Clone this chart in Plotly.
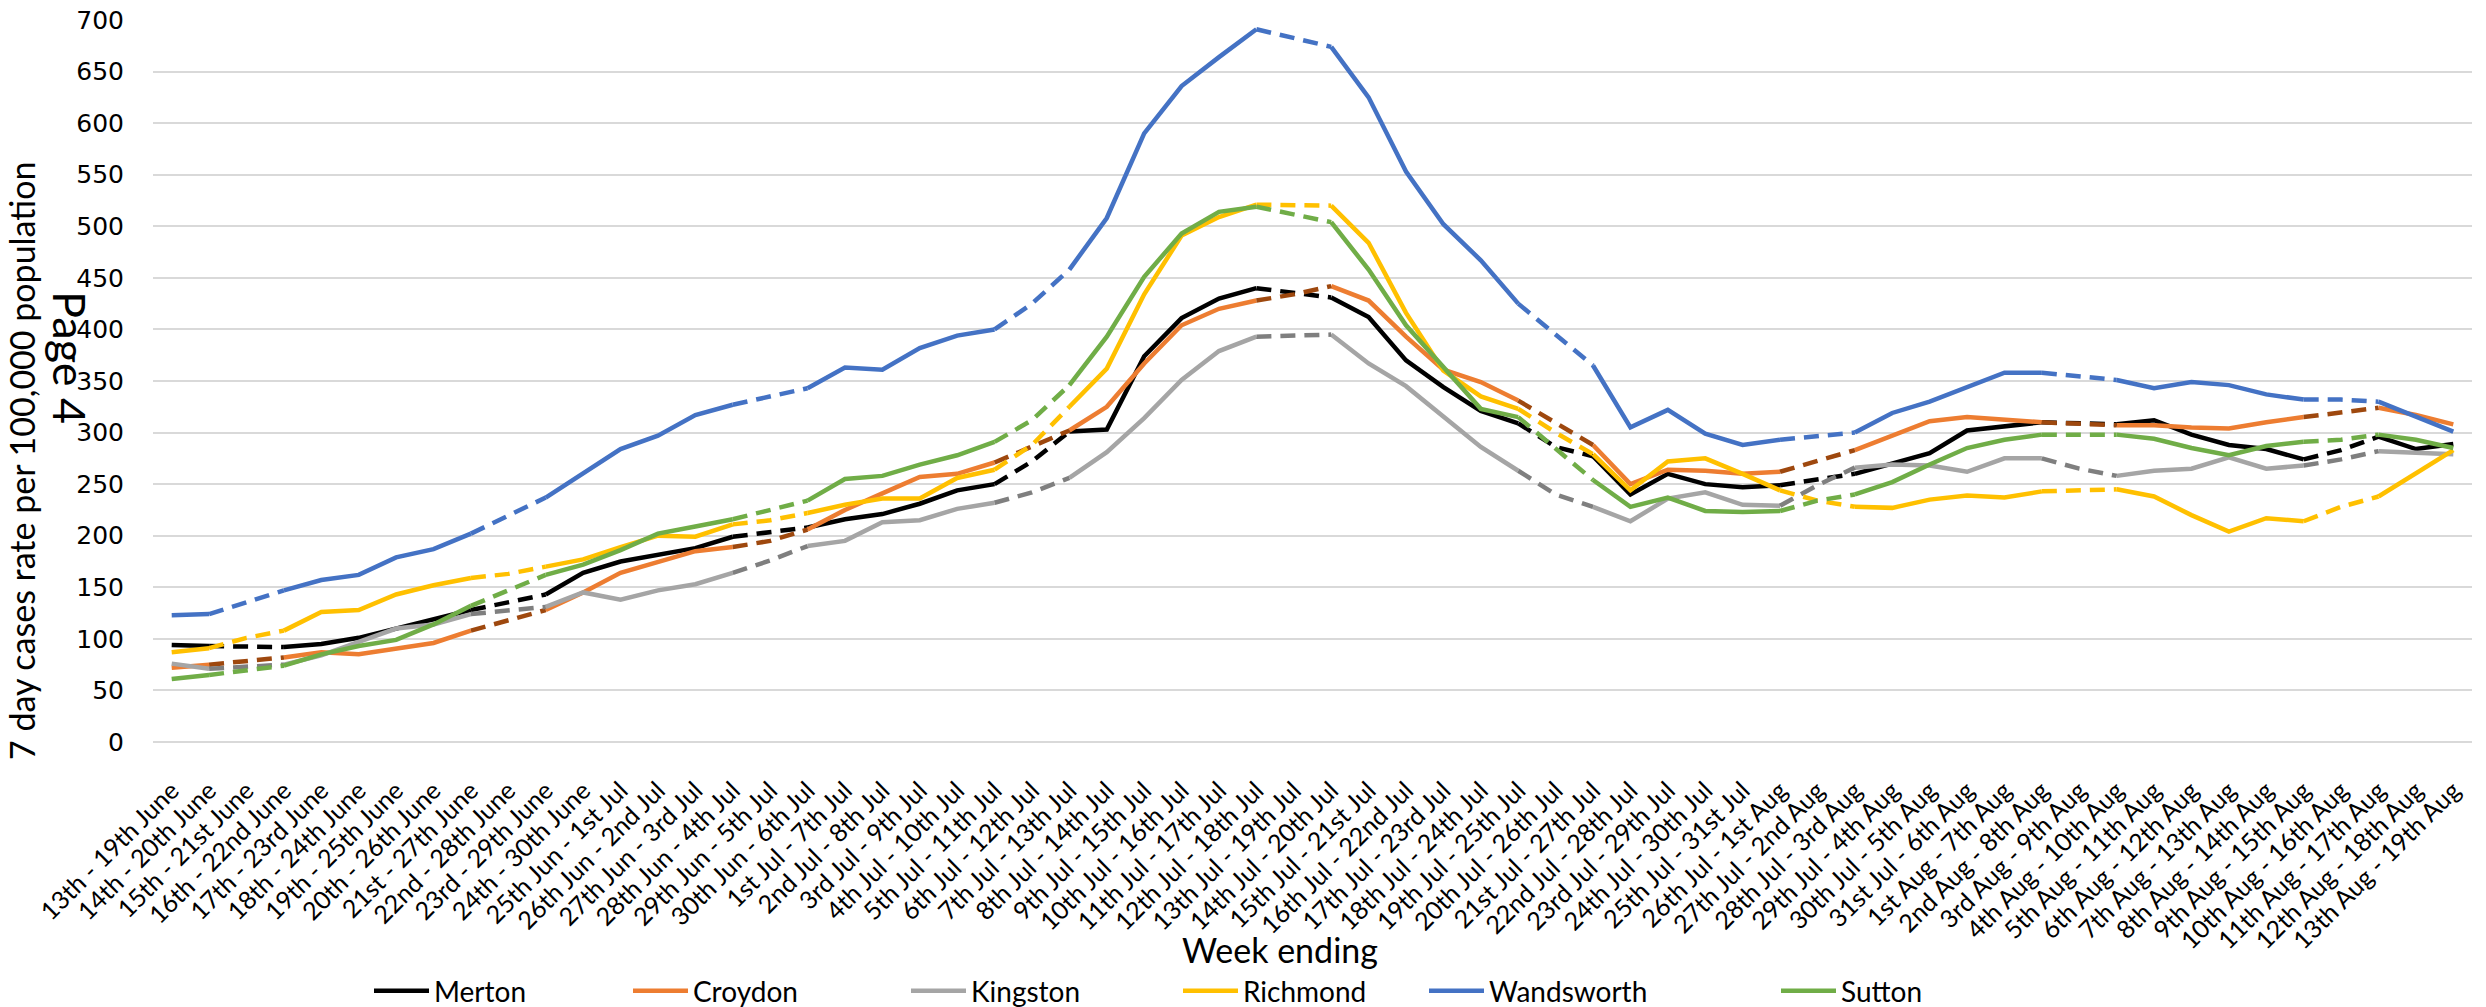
import plotly.graph_objects as go

weeks = [
    "13th - 19th June", "14th - 20th June", "15th - 21st June", "16th - 22nd June",
    "17th - 23rd June", "18th - 24th June", "19th - 25th June", "20th - 26th June",
    "21st - 27th June", "22nd - 28th June", "23rd - 29th June", "24th - 30th June",
    "25th Jun - 1st Jul", "26th Jun - 2nd Jul", "27th Jun - 3rd Jul", "28th Jun - 4th Jul",
    "29th Jun - 5th Jul", "30th Jun - 6th Jul", "1st Jul - 7th Jul", "2nd Jul - 8th Jul",
    "3rd Jul - 9th Jul", "4th Jul - 10th Jul", "5th Jul - 11th Jul", "6th Jul - 12th Jul",
    "7th Jul - 13th Jul", "8th Jul - 14th Jul", "9th Jul - 15th Jul", "10th Jul - 16th Jul",
    "11th Jul - 17th Jul", "12th Jul - 18th Jul", "13th Jul - 19th Jul", "14th Jul - 20th Jul",
    "15th Jul - 21st Jul", "16th Jul - 22nd Jul", "17th Jul - 23rd Jul", "18th Jul - 24th Jul",
    "19th Jul - 25th Jul", "20th Jul - 26th Jul", "21st Jul - 27th Jul", "22nd Jul - 28th Jul",
    "23rd Jul - 29th Jul", "24th Jul - 30th Jul", "25th Jul - 31st Jul", "26th Jul - 1st Aug",
    "27th Jul - 2nd Aug", "28th Jul - 3rd Aug", "29th Jul - 4th Aug", "30th Jul - 5th Aug",
    "31st Jul - 6th Aug", "1st Aug - 7th Aug", "2nd Aug - 8th Aug", "3rd Aug - 9th Aug",
    "4th Aug - 10th Aug", "5th Aug - 11th Aug", "6th Aug - 12th Aug", "7th Aug - 13th Aug",
    "8th Aug - 14th Aug", "9th Aug - 15th Aug", "10th Aug - 16th Aug", "11th Aug - 17th Aug",
    "12th Aug - 18th Aug", "13th Aug - 19th Aug",
]

# weeks whose values are joined with dashed segments
estimated_weeks = [2, 9, 16, 23, 30, 37, 44, 51, 58]

merton = [94, 93, 92, 92, 95, 101, 110, 119, 128, 135, 143, 164, 175, 182, 188, 199,
          203, 208, 216, 221, 231, 244, 250, 272, 301, 303, 374, 411, 430, 440, 436, 431,
          412, 370, 344, 321, 309, 286, 277, 240, 260, 250, 247, 249, 254, 260, 270, 280,
          302, 306, 310, 309, 308, 312, 298, 288, 284, 274, 283, 296, 284, 289]
croydon = [72, 75, 79, 82, 87, 85, 90, 96, 108, 118, 128, 145, 164, 175, 185, 189,
           195, 206, 225, 241, 257, 260, 271, 286, 302, 325, 367, 404, 420, 428, 434, 442,
           428, 393, 361, 349, 331, 309, 288, 250, 264, 263, 260, 262, 272, 283, 297, 311,
           315, 313, 310, 309, 307, 307, 305, 304, 310, 315, 320, 324, 317, 308]
kingston = [76, 71, 73, 75, 84, 97, 110, 114, 124, 128, 131, 145, 138, 147, 153, 164,
            176, 190, 195, 213, 215, 226, 232, 242, 256, 281, 314, 351, 379, 393, 394, 395,
            367, 345, 315, 286, 263, 240, 228, 214, 236, 242, 230, 229, 249, 266, 269, 268,
            262, 275, 275, 265, 258, 263, 265, 276, 265, 268, 274, 282, 280, 279]
richmond = [87, 91, 101, 108, 126, 128, 143, 152, 159, 163, 170, 177, 189, 200, 199, 211,
            215, 222, 230, 236, 236, 256, 264, 288, 325, 362, 434, 491, 509, 521, 521, 520,
            484, 416, 360, 335, 323, 300, 279, 244, 272, 275, 260, 244, 234, 228, 227, 235,
            239, 237, 243, 244, 245, 238, 220, 204, 217, 214, 228, 238, 261, 283]
wandsworth = [123, 124, 136, 147, 157, 162, 179, 187, 202, 220, 237, 260, 284, 297, 317, 327,
              335, 343, 363, 361, 382, 394, 400, 425, 458, 508, 590, 636, 664, 691, 683, 674,
              625, 553, 502, 467, 425, 395, 365, 305, 322, 299, 288, 293, 297, 300, 319, 330,
              344, 358, 358, 355, 351, 343, 349, 346, 337, 332, 332, 330, 315, 301]
sutton = [61, 65, 70, 74, 85, 93, 99, 114, 132, 147, 162, 172, 186, 202, 209, 216,
          225, 234, 255, 258, 269, 278, 291, 312, 346, 393, 451, 493, 514, 519, 511, 504,
          458, 404, 364, 323, 315, 284, 254, 228, 237, 224, 223, 224, 234, 240, 252, 269,
          285, 293, 298, 298, 298, 294, 285, 278, 287, 291, 293, 298, 293, 285]

series_names = ["Merton", "Croydon", "Kingston", "Richmond", "Wandsworth", "Sutton"]
series_values = [merton, croydon, kingston, richmond, wandsworth, sutton]
solid_colors = ["#000000", "#ED7D31", "#A5A5A5", "#FFC000", "#4472C4", "#70AD47"]
dash_colors = ["#000000", "#9E480E", "#7F7F7F", "#FFC000", "#4472C4", "#70AD47"]

FONT = "Lato, 'Open Sans', sans-serif"

L, R, T, B = 153, 14, 20, 265
W, H = 2486, 1007
PW = W - L - R
PH = H - T - B

# left edge (px) of each legend entry, as in the original layout
legend_left = [369, 628, 906, 1178, 1424, 1776]

fig = go.Figure()
n = len(weeks)
dash_idx = set()
for e in estimated_weeks:
    dash_idx.update([e - 1, e, e + 1])

legend_layouts = {}
for k, (name, vals, c_s, c_d) in enumerate(zip(series_names, series_values,
                                                 solid_colors, dash_colors)):
    lg = "legend" if k == 0 else f"legend{k + 1}"
    solid = [None if i in estimated_weeks else v for i, v in enumerate(vals)]
    dashed = [v if i in dash_idx else None for i, v in enumerate(vals)]
    fig.add_trace(go.Scatter(
        x=weeks, y=solid, mode="lines", name=name, legendgroup=name, legend=lg,
        line=dict(color=c_s, width=4.5), connectgaps=False,
    ))
    fig.add_trace(go.Scatter(
        x=weeks, y=dashed, mode="lines", name=name, legendgroup=name, showlegend=False,
        legend=lg, line=dict(color=c_d, width=4.5, dash="15px,9px"), connectgaps=False,
    ))
    legend_layouts[lg] = dict(
        orientation="h", xref="container", yref="container",
        x=legend_left[k] / W, xanchor="left", y=1 - 991 / H, yanchor="middle",
        font=dict(family=FONT, size=28, color="#000000"),
        itemwidth=55, bgcolor="rgba(0,0,0,0)",
    )


def px_x(x):
    return (x - L) / PW


def px_y(y):
    return (H - B - y) / PH


fig.update_layout(
    width=W, height=H,
    margin=dict(l=L, r=R, t=T, b=B, pad=0, autoexpand=False),
    paper_bgcolor="white", plot_bgcolor="white",
    font=dict(family=FONT, color="#000000"),
    showlegend=True,
    xaxis=dict(
        type="category", categoryorder="array", categoryarray=weeks,
        range=[-0.5, n - 0.5], tickangle=-45,
        tickfont=dict(family=FONT, size=25, color="#000000"),
        showgrid=False, zeroline=False, showline=False, automargin=False,
        ticks="", ticklabelstandoff=28,
    ),
    yaxis=dict(
        range=[0, 700], dtick=50, tick0=0,
        tickfont=dict(family="'DejaVu Sans', Verdana, sans-serif", size=25, color="#000000"),
        showgrid=True, gridcolor="#D9D9D9", gridwidth=2,
        zeroline=True, zerolinecolor="#D9D9D9", zerolinewidth=2, automargin=False,
        showline=False, ticks="", ticklabelstandoff=28,
    ),
    annotations=[
        dict(text="7 day cases rate per 100,000 population", xref="paper", yref="paper",
             x=px_x(21), y=px_y(461), xanchor="center", yanchor="middle", textangle=-90,
             showarrow=False, font=dict(family=FONT, size=34, color="#000000")),
        dict(text="Week ending", xref="paper", yref="paper",
             x=px_x(1280), y=px_y(950), xanchor="center", yanchor="middle",
             showarrow=False, font=dict(family=FONT, size=34, color="#000000")),
        dict(text="Page 4", xref="paper", yref="paper",
             x=px_x(70), y=px_y(357), xanchor="center", yanchor="middle", textangle=90,
             showarrow=False, font=dict(family=FONT, size=45, color="#000000")),
    ],
    **legend_layouts,
)

fig.write_html(
    "out.html",
    config={"displayModeBar": False, "responsive": False},
    post_script="document.body.style.margin='0';document.body.style.overflow='hidden';",
)
